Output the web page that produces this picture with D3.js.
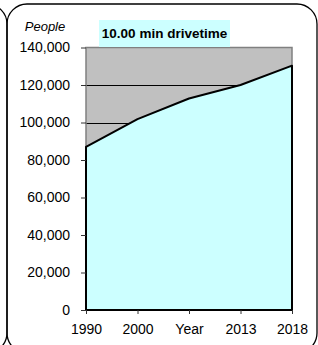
<!DOCTYPE html>
<html>
<head>
<meta charset="utf-8">
<script src="https://cdn.jsdelivr.net/npm/d3@7"></script>
<style>
  body { margin: 0; background: #fff; }
  svg { display: block; font-family: "Liberation Sans", Arial, sans-serif; }
</style>
</head>
<body>
<svg class="chart"></svg>
<script>
// Chart values.
var years = ["1990", "2000", "Year", "2013", "2018"];
var people = [87000, 101800, 112800, 120000, 130300];
var yTicks = [0, 20000, 40000, 60000, 80000, 100000, 120000, 140000];
var title = "10.00 min drivetime";
var yLabel = "People";

var width = 318, height = 345;
var plot = { left: 86, right: 292, top: 47.5, bottom: 310 };

var svg = d3.select("svg.chart").attr("width", width).attr("height", height);

// Frame: this panel plus the edge of the neighbouring one.
svg.append("rect")
    .attr("x", 7).attr("y", 4).attr("width", 310).attr("height", 349)
    .attr("rx", 20).attr("ry", 20)
    .attr("fill", "none").attr("stroke", "#000").attr("stroke-width", 1.3);
svg.append("rect")
    .attr("x", -303).attr("y", 4).attr("width", 310).attr("height", 349)
    .attr("rx", 20).attr("ry", 20)
    .attr("fill", "none").attr("stroke", "#000").attr("stroke-width", 1.3);

var x = d3.scalePoint().domain(years).range([plot.left, plot.right]);
var y = d3.scaleLinear().domain([0, 140000]).range([plot.bottom, plot.top]);

var data = years.map(function (yr, i) { return { year: yr, value: people[i] }; });

// Plot background.
svg.append("rect")
    .attr("x", plot.left).attr("y", plot.top)
    .attr("width", plot.right - plot.left).attr("height", plot.bottom - plot.top)
    .attr("fill", "#c0c0c0");

// Gridlines (only visible above the area).
svg.append("g")
    .selectAll("line")
    .data(yTicks.slice(1, -1))
    .enter()
    .append("line")
    .attr("x1", plot.left).attr("x2", plot.right)
    .attr("y1", function (d) { return Math.round(y(d)) + 0.5; })
    .attr("y2", function (d) { return Math.round(y(d)) + 0.5; })
    .attr("stroke", "#000").attr("stroke-width", 1);

// Plot border.
svg.append("rect")
    .attr("x", plot.left).attr("y", plot.top)
    .attr("width", plot.right - plot.left).attr("height", plot.bottom - plot.top)
    .attr("fill", "none").attr("stroke", "#808080").attr("stroke-width", 1.5);

// Area.
var area = d3.area()
    .x(function (d) { return x(d.year); })
    .y0(y(0))
    .y1(function (d) { return y(d.value); });

svg.append("path")
    .datum(data)
    .attr("d", area)
    .attr("fill", "#ccffff")
    .attr("stroke", "#000")
    .attr("stroke-width", 2)
    .attr("stroke-linejoin", "round");

// Axes.
var yAxis = d3.axisLeft(y)
    .tickValues(yTicks)
    .tickSize(5)
    .tickPadding(11)
    .tickFormat(d3.format(","));
var gy = svg.append("g")
    .attr("transform", "translate(" + plot.left + ",0)")
    .call(yAxis);
gy.select(".domain").remove();
gy.selectAll("text").attr("font-size", 14).attr("fill", "#000")
    .attr("font-family", "'Liberation Sans', Arial, sans-serif");
gy.selectAll("line").attr("stroke", "#333");

var xAxis = d3.axisBottom(x).tickSize(4).tickPadding(10);
var gx = svg.append("g")
    .attr("transform", "translate(0," + plot.bottom + ")")
    .call(xAxis);
gx.select(".domain").remove();
gx.selectAll("text").attr("font-size", 14).attr("fill", "#000")
    .attr("font-family", "'Liberation Sans', Arial, sans-serif");
gx.selectAll("line").attr("stroke", "#333");

// Axis title.
svg.append("text")
    .attr("x", 45).attr("y", 31)
    .attr("text-anchor", "middle")
    .attr("font-size", 13)
    .attr("font-style", "italic")
    .text(yLabel);

// Title box.
svg.append("rect")
    .attr("x", 99).attr("y", 20).attr("width", 131).attr("height", 27)
    .attr("fill", "#ccffff");
svg.append("text")
    .attr("x", 164.5).attr("y", 38)
    .attr("text-anchor", "middle")
    .attr("font-size", 13.5)
    .attr("font-weight", "bold")
    .text(title);
</script>
</body>
</html>
